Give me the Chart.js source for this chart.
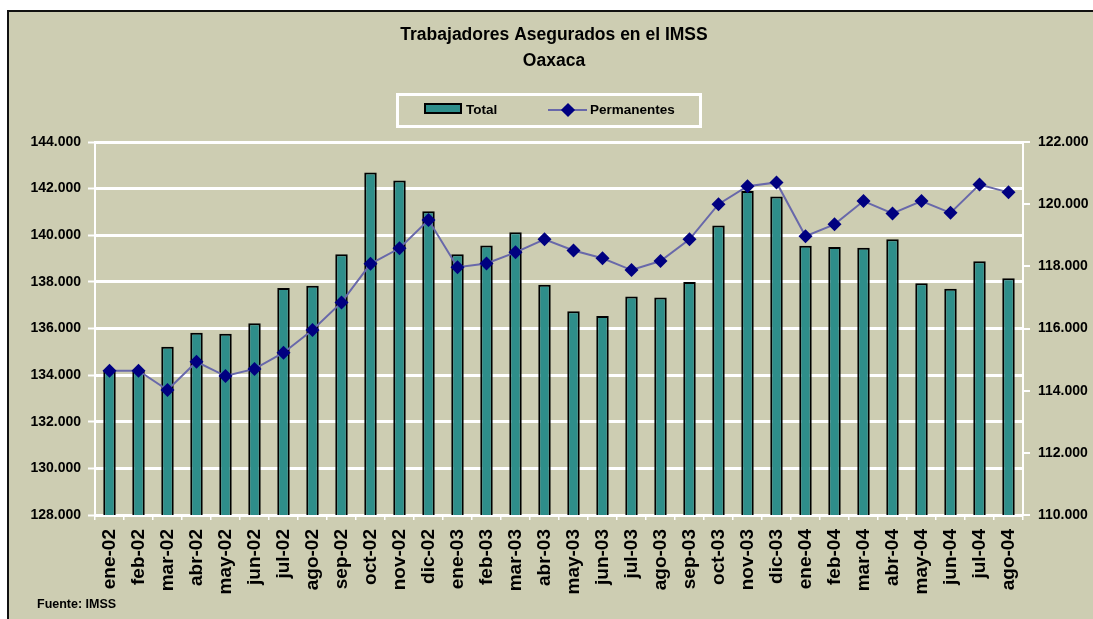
<!DOCTYPE html>
<html lang="es">
<head>
<meta charset="utf-8">
<title>Trabajadores Asegurados en el IMSS - Oaxaca</title>
<script src="https://cdn.jsdelivr.net/npm/chart.js@4.4.1/dist/chart.umd.min.js"></script>
<style>
  html, body { margin: 0; padding: 0; width: 1093px; height: 619px; overflow: hidden; background: #fff; font-family: 'Liberation Sans', Arial, sans-serif; }
  #frame { position: absolute; left: 7px; top: 10px; width: 1100px; height: 620px; border-left: 2px solid #111; border-top: 2px solid #111; background: #cdcdb2; }
  #wrap { position: absolute; left: 9px; top: 12px; width: 1090px; height: 607px; }
  #legend { position: absolute; left: 396px; top: 93px; width: 306px; height: 35px; border: 3px solid #fff; box-sizing: border-box; }
  .lg { position: absolute; font-weight: bold; font-size: 13.5px; line-height: 16px; color: #000; }
  #sw-total { position: absolute; left: 424px; top: 103px; width: 38px; height: 11px; background: #2e8e8a; border: 2px solid #000; box-sizing: border-box; }
  #sw-line { position: absolute; left: 548px; top: 109px; width: 39px; height: 2px; background: #6868aa; }
  #sw-diam { position: absolute; left: 563px; top: 105px; width: 10px; height: 10px; background: #000080; transform: rotate(45deg); }
  #fuente { position: absolute; left: 37px; top: 597px; font-weight: bold; font-size: 12.5px; color: #000; }
</style>
</head>
<body>
<div id="frame"></div>
<div id="wrap"><canvas id="chart" width="1090" height="607"></canvas></div>
<div id="legend"></div>
<div id="sw-total"></div><div class="lg" style="left:466px;top:102px;">Total</div>
<div id="sw-line"></div><div id="sw-diam"></div><div class="lg" style="left:590px;top:102px;">Permanentes</div>
<div id="fuente">Fuente: IMSS</div>
<script>
const months = ['ene-02', 'feb-02', 'mar-02', 'abr-02', 'may-02', 'jun-02', 'jul-02', 'ago-02', 'sep-02', 'oct-02', 'nov-02', 'dic-02',
                'ene-03', 'feb-03', 'mar-03', 'abr-03', 'may-03', 'jun-03', 'jul-03', 'ago-03', 'sep-03', 'oct-03', 'nov-03', 'dic-03',
                'ene-04', 'feb-04', 'mar-04', 'abr-04', 'may-04', 'jun-04', 'jul-04', 'ago-04'];

// Total (left axis)
const total = [134200, 134200, 135220, 135820, 135770, 136230, 137740, 137830, 139190, 142690, 142350, 141030,
               139190, 139560, 140130, 137880, 136740, 136540, 137370, 137330, 138000, 140420, 141900, 141660,
               139550, 139500, 139460, 139830, 137940, 137710, 138890, 138160];

// Permanentes (right axis)
const permanentes = [114640, 114640, 114020, 114930, 114470, 114700, 115220, 115950, 116840, 118080, 118580, 119490,
                     117970, 118090, 118450, 118870, 118510, 118260, 117880, 118170, 118870, 120000, 120580, 120700,
                     118970, 119350, 120100, 119700, 120100, 119720, 120630, 120380];

const leftRange = [128000, 144000];
const rightRange = [110000, 122000];
const tickStep = 2000;

const titleLines = ['Trabajadores Asegurados en el IMSS', 'Oaxaca'];

function formatMiles(v) {
    return String(v).replace(/\B(?=(\d{3})+(?!\d))/g, '.');
}

Chart.defaults.font.family = "'Liberation Sans', Arial, sans-serif";
Chart.defaults.font.weight = 'bold';
Chart.defaults.color = '#000';

const ctx = document.getElementById('chart').getContext('2d');

new Chart(ctx, {
    type: 'bar',
    data: {
        labels: months,
        datasets: [
            {
                type: 'line',
                label: 'Permanentes',
                data: permanentes,
                yAxisID: 'y1',
                borderColor: '#6868aa',
                borderWidth: 2,
                tension: 0,
                pointStyle: 'rectRot',
                pointRadius: 7,
                pointBorderWidth: 0,
                pointBackgroundColor: '#000080',
                pointBorderColor: '#000080',
                order: 1
            },
            {
                label: 'Total',
                data: total,
                yAxisID: 'y',
                backgroundColor: '#2e8e8a',
                borderColor: '#000',
                borderWidth: 2,
                barPercentage: 0.43,
                categoryPercentage: 1,
                order: 2
            }
        ]
    },
    options: {
        responsive: false,
        animation: false,
        layout: { padding: 0 },
        plugins: {
            legend: { display: false },
            tooltip: { enabled: false },
            title: {
                display: true,
                text: titleLines,
                font: { size: 17.5, weight: 'bold', lineHeight: '26px' },
                color: '#000',
                padding: { top: 10, bottom: 68 }
            }
        },
        scales: {
            x: {
                offset: true,
                grid: { display: true, drawOnChartArea: false, color: '#fff', lineWidth: 1.5, tickLength: 5, offset: true },
                border: { display: true, color: '#fff', width: 2 },
                ticks: { minRotation: 90, maxRotation: 90, autoSkip: false, padding: 9, font: { size: 19, weight: 'bold' } },
                afterFit: (scale) => { scale.height = 104; }
            },
            y: {
                position: 'left',
                min: leftRange[0],
                max: leftRange[1],
                ticks: { stepSize: tickStep, padding: 7, font: { size: 14, weight: 'bold' }, callback: (v) => formatMiles(v) },
                grid: { color: '#fff', lineWidth: 3, tickLength: 7, tickWidth: 2 },
                border: { display: true, color: '#fff', width: 2 },
                afterFit: (scale) => { scale.width = 86; }
            },
            y1: {
                position: 'right',
                min: rightRange[0],
                max: rightRange[1],
                ticks: { stepSize: tickStep, padding: 8, font: { size: 14, weight: 'bold' }, callback: (v) => formatMiles(v) },
                grid: { drawOnChartArea: false, color: '#fff', lineWidth: 2, tickLength: 7 },
                border: { display: true, color: '#fff', width: 2 },
                afterFit: (scale) => { scale.width = 76; }
            }
        }
    }
});
</script>
</body>
</html>
